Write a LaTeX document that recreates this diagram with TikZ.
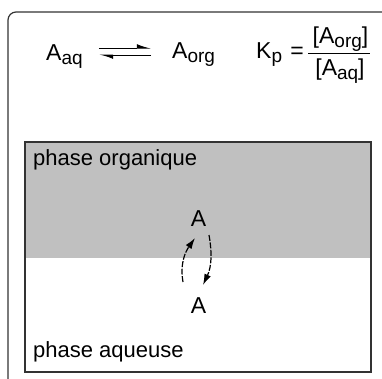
\documentclass[tikz,border=0pt]{standalone}
\usepackage{fontspec}
\setmainfont{Liberation Sans}
\usetikzlibrary{arrows.meta, calc}
\definecolor{orgphase}{RGB}{192,192,192}
\definecolor{framegray}{RGB}{51,51,51}
\newcommand{\chsub}[1]{\raisebox{-4pt}{\fontsize{19}{19}\selectfont #1}}

\begin{document}
\begin{tikzpicture}[x=1pt, y=-1pt,
    frame/.style={draw=framegray, line width=1.2pt},
    eqt/.style={font=\fontsize{23}{27}\selectfont, inner sep=0pt, anchor=base west},
    lab/.style={font=\fontsize{22}{26}\selectfont, inner sep=0pt, anchor=base west},
    harp/.style={-{Latex[harpoon, length=12pt, width=8pt]}, line width=1pt},
    cyc/.style={-{Latex[length=11pt, width=7pt]}, line width=1.2pt, dash pattern=on 6pt off 1.5pt}
  ]
  \clip (0,0) rectangle (382,378);
  % ---- cadre ----
  \draw[frame, rounded corners=8pt] (8,12) rectangle (420,420);
  % ---- équilibre ----
  \node[eqt] (aaq) at (46,60) {A\chsub{aq}};
  \node[eqt] (aorg) at (172,58) {A\chsub{org}};
  \draw[harp] ([shift={(16,-12)}]aaq.base east) -- ([shift={(-21,-10)}]aorg.base west);
  \draw[harp] ([shift={(-21,-3)}]aorg.base west) -- ([shift={(16,-5)}]aaq.base east);
  \node[eqt] (kp) at (256,58) {K\chsub{p}};
  \node[eqt, anchor=base] (eq) at (297,58) {=};
  \node[eqt, anchor=base] (num) at (340.5,43) {[A\chsub{org}]};
  \node[eqt, anchor=base] (den) at (340,75) {[A\chsub{aq}]};
  \draw[line width=1pt] (308,53) -- (370,53);
  % ---- phases ----
  \fill[orgphase] (25,142) rectangle (371,258);
  \draw[frame] (25,142) rectangle (371,372);
  \node[lab] (lorg) at (33,165) {phase organique};
  \node[lab] (laq) at (33,357) {phase aqueuse};
  \node[eqt, anchor=base] (atop) at (198.5,226) {A};
  \node[eqt, anchor=base] (abot) at (198.5,313) {A};
  \draw[cyc] ([shift={(-15.5,-31)}]abot.base) to[out=100, in=235] ([shift={(-3.5,12)}]atop.base);
  \draw[cyc] ([shift={(10.5,9)}]atop.base) to[out=-80, in=65] ([shift={(4.5,-28)}]abot.base);
\end{tikzpicture}
\end{document}
